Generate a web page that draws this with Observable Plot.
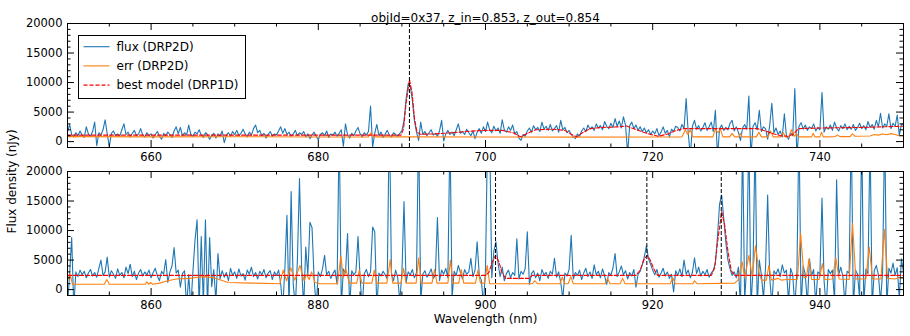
<!DOCTYPE html>
<html><head><meta charset="utf-8">
<script src="https://cdn.jsdelivr.net/npm/d3@7"></script>
<script src="https://cdn.jsdelivr.net/npm/@observablehq/plot@0.6"></script>
<style>
body{margin:0;background:#fff;}
#chart{width:910px;height:336px;}
#chart svg{display:block;}
</style></head><body><div id="chart"></div>
<script>
const title = "objId=0x37, z_in=0.853, z_out=0.854";
const xLabel = "Wavelength (nm)";
const yLabel = "Flux density (nJy)";
const legendLabels = ["flux (DRP2D)", "err (DRP2D)", "best model (DRP1D)"];
const topRange = [650, 750];
const bottomRange = [850, 950];
const yRange = [-1000, 20000];
const topXTicks = [660, 680, 700, 720, 740];
const bottomXTicks = [860, 880, 900, 920, 940];
const yTicks = [0, 5000, 10000, 15000, 20000];
const sampleStep = 0.25;
const topLines = [690.9];
const bottomLines = [901.2, 919.3, 928.2];

const topFlux = [
1600,2900,1200,800,1500,1000,1800,1100,700,2500,1300,900,1700,3300,-700,1500,1100,2000,3700,1300,
-800,1400,1800,1000,1300,900,2000,3000,1200,1600,800,1400,1900,1000,1300,2200,1100,800,1500,1000,
1300,600,1200,1700,900,400,1400,1000,1600,1200,700,1800,2500,1300,2400,1000,1500,1100,2800,1200,
900,1600,1300,2000,1100,700,1500,1200,400,1000,1400,600,1300,900,1800,-200,1100,1500,900,1700,
1200,1900,1000,1400,2100,1300,800,1600,1100,2200,2800,1500,1900,1000,1400,600,1200,1700,900,1300,
1100,1800,2500,1400,2200,1200,1600,900,1300,1900,1000,1500,1200,1700,800,1300,500,1100,1600,900,
300,1200,1500,1000,1800,700,1300,1100,1600,900,1400,2000,-800,3000,1200,600,1400,1000,1800,2400,
1300,800,1500,1100,1700,6000,-900,1400,2900,1000,1600,700,1300,1900,1100,800,1500,1200,900,1400,
1800,3500,7200,9800,9400,7000,3500,1600,200,3300,1200,1700,1000,1500,2000,1100,1400,900,1800,3600,
100,1300,1900,1200,1600,1000,2000,3000,1400,1700,1200,2100,1500,1000,1800,500,1600,2200,1400,2500,
1700,3300,2000,1500,2600,1800,2300,1400,3700,2000,1600,2500,1900,2800,1300,1700,600,200,1200,900,
1800,2300,1600,2700,2000,2400,1700,3300,2100,2600,1900,2900,1800,2200,2700,1600,3600,2000,2400,1500,
1900,1200,800,500,1300,900,1800,2300,1700,2800,2100,2500,1900,3000,2300,2700,2000,3400,2600,2200,
3100,2400,3900,2600,3500,2300,4200,2800,-2000,2700,3300,2200,2800,1900,2500,1700,2300,1500,2000,1200,
1800,1300,2200,1000,1600,2500,1400,1900,800,2100,1700,2600,2400,1800,2900,2200,7300,1500,-2500,2600,
3600,2100,2700,1800,2400,3200,1900,2500,3300,1700,5300,-2500,2200,2800,1900,2400,2000,3100,3600,1800,
2500,1600,200,2300,2900,2100,7700,-2500,2600,3200,2000,5300,1700,2500,2200,400,2800,6500,1500,2300,
1200,1800,800,4700,900,400,1500,1000,9000,-2500,2600,3200,2100,2800,1900,2500,2200,3000,1800,2400,
2000,8300,1600,2500,2100,2800,1900,3300,2300,1800,2700,2200,3000,2000,2600,2100,2900,1900,2400,3100,
2200,2700,2000,3400,2400,2900,2100,3600,2500,4800,2300,3000,2600,4700,2200,3100,2600,4500,1000,3000,
2800];

const bottomFlux = [
-3000,2600,8800,-3000,3000,2200,3300,2500,3100,2000,2800,3400,2300,2900,2100,3600,5000,2400,3000,5500,
2100,3200,2600,1900,3500,2400,2900,2000,3800,2700,4300,2200,3100,1700,2800,3400,2300,3000,2500,3300,
2000,2900,3600,2300,1500,3100,2600,5100,1200,3000,4000,7100,2800,3300,400,2700,3200,-3000,2500,-3000,
3000,8300,11800,-3000,9000,-2500,11800,-3000,8800,500,3400,-2000,6100,1800,3200,2100,2900,1500,3600,2400,
3000,1900,3500,2300,2700,1600,3300,2600,3800,2200,2900,1800,3100,2500,3400,2000,2800,3200,1700,3000,
2400,3300,1000,-3000,3500,12600,-3000,16600,1000,-3000,5000,18800,4000,-3000,7200,2500,11400,10500,1800,-3000,
3000,2200,3500,5800,2500,3100,1900,2700,3300,900,28000,-3000,3500,2800,9500,-3000,3200,2500,3000,9000,
2000,-3000,2700,3400,2200,3000,10600,9800,-3000,2800,2300,3100,2500,1800,30000,2600,1500,3300,2000,-2000,
2800,14900,1200,3000,2500,3400,2000,2900,28000,-2000,2600,3200,2100,2700,3500,1900,2400,12200,1500,3300,
2600,3600,2000,27000,-1500,3100,2400,4100,2900,1800,3400,2600,3000,5300,2200,3300,8100,2500,1600,-2500,
3500,27000,26000,2000,6500,8100,4500,2200,3800,1500,2700,3300,2000,2900,2400,8600,1800,3100,2600,3600,
9800,900,2700,3200,2000,2800,1500,3400,2500,2900,1900,3100,2600,5300,2100,3000,1200,-1500,2800,2300,
3400,9200,1800,2900,2400,3300,1700,2800,3600,2200,3000,1900,4200,2500,3100,2000,3500,2300,900,2900,
2400,3700,6100,2200,3000,4000,2500,3200,1800,2900,2300,3400,400,2600,3100,4200,5600,7400,5200,4300,
3300,2500,3400,2100,2800,3600,2300,3000,1900,2600,-400,3200,2400,3500,2200,5000,2600,3300,2000,2900,
5400,2700,3800,2300,3100,2500,3400,2100,2800,3300,4500,9000,14500,16000,12000,8000,5000,3500,2400,3000,
2000,3800,-3000,26000,-2000,4500,27000,-3000,3500,26000,-3000,5000,2500,-1500,3800,16000,2000,-2500,3200,2600,
3500,2200,4200,2800,3300,-2000,3600,2500,-3000,3000,28000,-3000,4000,2600,-2500,5200,2300,3400,-2500,3000,
2600,15500,1500,-3000,3400,2700,3300,-2000,18600,2500,3800,2200,-2500,3100,2800,28000,-3000,3300,2600,-1500,
27000,-2500,3500,2700,26000,-3000,3200,4100,2500,-2000,3000,28000,-3000,3600,2800,4500,2400,3700,-1500,5200,
3000];

const topErrWave = [650,660,670,680,686.0,686.3,686.6,690,700,710,720,723.5,723.9,724.2,724.5,724.8,727.2,727.5,727.8,728.1,728.4,729.2,729.5,729.8,730.3,730.5,730.7,732.4,732.7,733.0,733.8,734.1,734.4,735.3,735.6,735.9,736.3,736.6,736.9,737.2,737.5,739.0,739.2,739.4,740.0,740.2,740.4,741.8,742.1,742.4,743.6,743.9,744.2,746.0,746.5,747.0,747.5,748.0,748.5,749.0,749.5,750];
const topErrFlux = [850,800,820,790,800,1500,800,800,780,760,770,800,2000,1200,2000,800,800,2100,1500,2100,800,800,1400,800,800,1400,800,800,1600,800,800,1800,800,800,1500,800,800,2000,900,1300,800,800,1400,800,800,1600,800,850,1100,850,850,1300,900,950,1200,1100,1300,1150,1350,1200,1000,1000];

const bottomErrWave = [850.0,850.3,850.6,854.4,854.7,855.0,859.3,859.5,859.7,859.9,860.2,861.0,862.0,863.0,864.6,865.5,866.5,867.5,868.6,869.2,872.0,875.4,875.8,876.2,876.7,877.2,877.8,878.3,878.6,878.9,879.2,879.6,880.2,882.3,882.7,883.0,883.3,883.7,884.6,884.9,885.2,886.4,886.7,887.0,888.2,888.6,888.9,889.9,890.2,890.5,891.7,892.0,892.3,893.6,893.9,894.2,895.5,895.8,896.1,896.8,897.1,897.4,898.8,899.1,899.4,899.9,900.2,900.5,905.6,905.9,906.2,908.9,909.2,909.5,909.9,910.2,910.5,914.3,914.6,914.9,916.1,916.4,916.7,922.1,922.4,922.7,924.8,925.0,925.3,929.8,930.2,930.7,931.0,931.5,931.9,932.3,932.7,933.0,933.6,933.9,934.2,935.0,935.4,936.0,937.3,937.7,938.1,938.4,938.7,939.0,939.9,940.3,940.6,941.5,941.9,942.3,943.5,943.9,944.3,945.5,945.9,946.3,947.3,947.7,948.1,949.0,949.5,950.0];
const bottomErrFlux = [1500,2700,900,900,1700,900,900,1300,900,1200,900,1100,1500,1800,1900,2100,2200,2000,1500,1200,1100,1000,3300,1500,3700,1600,4100,1500,2600,1700,3000,1200,1000,1000,5700,2000,3500,1100,1100,3300,1100,1100,3300,1100,1100,5100,1100,1100,3600,1100,1100,5400,1100,1100,3400,1100,1100,5000,1100,1100,3400,1100,1100,3300,1100,1100,4100,1000,1000,1500,1000,1000,2100,1000,1000,2200,1000,1000,1900,1000,1000,1900,1000,1000,2000,1000,1000,1500,1000,1100,1600,4700,2000,5800,2200,7400,3000,1600,1600,4100,1600,1900,1600,1700,1700,9500,2000,2100,5200,1700,1700,4400,1700,1800,5400,1800,1700,11200,1800,1800,7200,1800,1800,10200,1900,1800,2100,1900];

const topModelWave = [650,689.9,690.2,690.5,690.9,691.2,691.5,691.8,692.2,694,696,698,700,702,703.3,704.2,705.0,706,708,709.5,710.3,710.9,711.6,712.5,714,716,716.9,717.3,718.5,719.5,720.7,721.8,722.8,723.7,732.5,733.5,734.5,735.5,736.2,736.9,737.4,740,745,750];
const topModelFlux = [1100,1100,2200,6500,10500,8500,4000,1600,1250,1300,1500,1750,1900,1900,1500,800,1400,2000,2100,1900,1200,800,1500,2200,2400,2500,2650,2400,1800,1300,900,1300,1900,2200,2200,1800,1300,950,900,1300,2200,2300,2400,2600];

const bottomModelWave = [850,900.0,900.4,900.8,901.2,901.6,902.0,902.4,905.2,905.6,918.0,918.5,919.0,919.35,919.7,920.2,920.6,927.0,927.4,927.8,928.25,928.6,929.0,929.4,929.8,950];
const bottomModelFlux = [2400,2400,2900,4600,5800,4700,2800,1900,1900,2400,2400,3300,5200,5800,5000,3300,2400,2400,3600,8500,13200,11000,6500,3200,2400,2400];

const colors = {flux: "#1f77b4", err: "#ff7f0e", model: "red"};
const FONT = "'DejaVu Sans', sans-serif";

function panel(o) {
  const W = 910, mL = 67, mR = 7;
  const fw = W - mL - mR;
  const fh = o.height - o.marginTop - o.marginBottom;
  const fluxData = o.flux.map((v, i) => ({w: o.xDomain[0] + i * sampleStep, v}));
  const errData = o.errWave.map((w, i) => ({w, v: o.errVal[i]}));
  const modelData = o.modelWave.map((w, i) => ({w, v: o.modelVal[i]}));
  const minorX = d3.range(o.xDomain[0], o.xDomain[1] + 0.001, 5).filter(d => !o.xTicks.includes(d));
  const minorY = d3.range(yRange[0], yRange[1] + 1, 1000).filter(d => !yTicks.includes(d));
  const MAJ = 7, MIN = 3.5;
  const marks = [
    Plot.line(fluxData, {x: "w", y: "v", stroke: colors.flux, strokeWidth: 1.1, clip: true}),
    Plot.line(errData, {x: "w", y: "v", stroke: colors.err, strokeWidth: 1.1, clip: true}),
    Plot.line(modelData, {x: "w", y: "v", stroke: colors.model, strokeWidth: 1.1, strokeDasharray: "4,2", clip: true}),
    Plot.ruleX(o.lines, {stroke: "black", strokeWidth: 1, strokeDasharray: "4,2"}),
    Plot.ruleX(o.xTicks, {insetTop: fh - MAJ, stroke: "black"}),
    Plot.ruleX(o.xTicks, {insetBottom: fh - MAJ, stroke: "black"}),
    Plot.ruleX(minorX, {insetTop: fh - MIN, stroke: "black"}),
    Plot.ruleX(minorX, {insetBottom: fh - MIN, stroke: "black"}),
    Plot.ruleY(yTicks, {insetRight: fw - MAJ, stroke: "black"}),
    Plot.ruleY(yTicks, {insetLeft: fw - MAJ, stroke: "black"}),
    Plot.ruleY(minorY, {insetRight: fw - MIN, stroke: "black"}),
    Plot.ruleY(minorY, {insetLeft: fw - MIN, stroke: "black"}),
    Plot.frame({stroke: "black", strokeWidth: 1}),
    Plot.axisX({ticks: o.xTicks, tickSize: 0, tickPadding: 5, tickFormat: d3.format("d"), label: null, fontSize: 11.5}),
    Plot.axisY({ticks: yTicks, tickSize: 0, tickPadding: 5, tickFormat: d3.format("d"), label: null, fontSize: 11.5})
  ];
  if (o.top) {
    marks.push(Plot.text([title], {text: d => d, frameAnchor: "top", dy: -10, fontSize: 12, fill: "black"}));
  } else {
    marks.push(Plot.text([xLabel], {text: d => d, frameAnchor: "bottom", dy: 27, fontSize: 12, fill: "black"}));
    marks.push(Plot.text([yLabel], {text: d => d, frameAnchor: "left", rotate: -90, dx: -55, fontSize: 12, fill: "black"}));
  }
  return Plot.plot({
    width: W, height: o.height,
    marginLeft: mL, marginRight: mR, marginTop: o.marginTop, marginBottom: o.marginBottom,
    x: {domain: o.xDomain},
    y: {domain: yRange},
    style: {fontFamily: FONT, fontSize: "11px", background: "white", color: "black", overflow: "visible"},
    marks
  });
}

const topPlot = panel({top: true, flux: topFlux, xDomain: topRange, xTicks: topXTicks,
  errWave: topErrWave, errVal: topErrFlux, modelWave: topModelWave, modelVal: topModelFlux,
  lines: topLines, height: 168, marginTop: 23, marginBottom: 21});
const bottomPlot = panel({top: false, flux: bottomFlux, xDomain: bottomRange, xTicks: bottomXTicks,
  errWave: bottomErrWave, errVal: bottomErrFlux, modelWave: bottomModelWave, modelVal: bottomModelFlux,
  lines: bottomLines, height: 168, marginTop: 3, marginBottom: 41});

const chart = document.getElementById("chart");
chart.appendChild(topPlot);
chart.appendChild(bottomPlot);

// legend inside top panel (upper left)
const svg = d3.select(topPlot);
const lg = svg.append("g").attr("font-family", FONT).attr("font-size", 12).attr("text-anchor", "start");
const lx = 78.5, ly = 35.5;
lg.append("rect").attr("x", lx).attr("y", ly).attr("width", 167).attr("height", 63)
  .attr("fill", "white").attr("stroke", "black").attr("stroke-width", 1);
const legendStyles = [
  {color: colors.flux, dash: null},
  {color: colors.err, dash: null},
  {color: colors.model, dash: "4,2"}
];
legendLabels.forEach((label, i) => {
  const cy = ly + 11.2 + i * 19.2;
  const ln = lg.append("line").attr("x1", lx + 5).attr("x2", lx + 31).attr("y1", cy).attr("y2", cy)
    .attr("stroke", legendStyles[i].color).attr("stroke-width", 1.1);
  if (legendStyles[i].dash) ln.attr("stroke-dasharray", legendStyles[i].dash);
  lg.append("text").attr("x", lx + 38).attr("y", cy).attr("dy", "0.35em")
    .attr("text-anchor", "start").attr("fill", "black").text(label);
});
</script>
</body></html>
